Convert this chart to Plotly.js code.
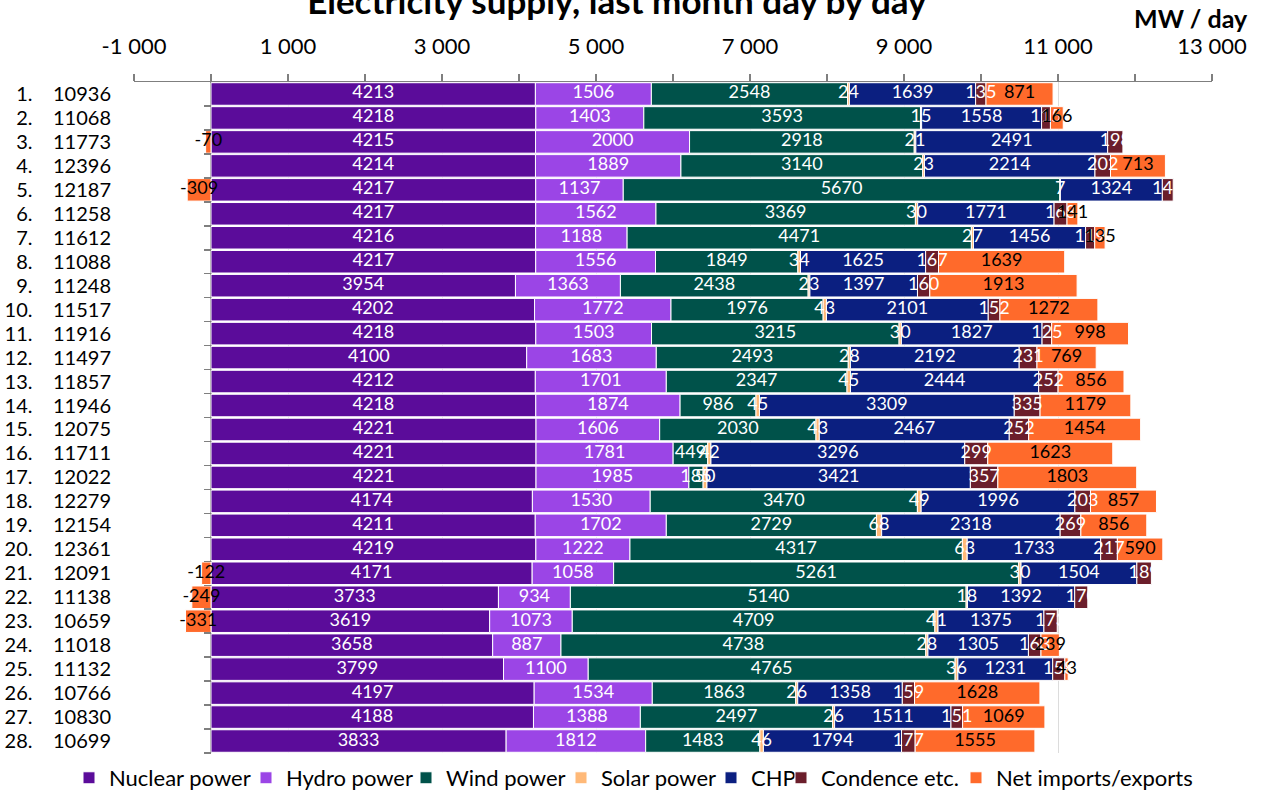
<!DOCTYPE html>
<html>
<head>
<meta charset="utf-8">
<script src="https://cdn.plot.ly/plotly-3.0.1.min.js"></script>
<style>html,body{margin:0;padding:0;background:#fff;}#chart{width:1264px;height:790px;}</style>
</head>
<body>
<div id="chart"></div>
<script>
const days = [1,2,3,4,5,6,7,8,9,10,11,12,13,14,15,16,17,18,19,20,21,22,23,24,25,26,27,28];
const totals = [10936,11068,11773,12396,12187,11258,11612,11088,11248,11517,11916,11497,11857,11946,12075,11711,12022,12279,12154,12361,12091,11138,10659,11018,11132,10766,10830,10699];
const nuclear = [4213,4218,4215,4214,4217,4217,4216,4217,3954,4202,4218,4100,4212,4218,4221,4221,4221,4174,4211,4219,4171,3733,3619,3658,3799,4197,4188,3833];
const hydro = [1506,1403,2000,1889,1137,1562,1188,1556,1363,1772,1503,1683,1701,1874,1606,1781,1985,1530,1702,1222,1058,934,1073,887,1100,1534,1388,1812];
const wind = [2548,3593,2918,3140,5670,3369,4471,1849,2438,1976,3215,2493,2347,986,2030,449,185,3470,2729,4317,5261,5140,4709,4738,4765,1863,2497,1483];
const solar = [24,15,21,23,7,30,27,34,23,43,30,28,45,45,43,42,50,49,68,63,30,18,41,28,36,26,26,46];
const chp = [1639,1558,2491,2214,1324,1771,1456,1625,1397,2101,1827,2192,2444,3309,2467,3296,3421,1996,2318,1733,1504,1392,1375,1305,1231,1358,1511,1794];
const condence = [135,115,198,202,141,168,119,167,160,152,125,231,252,335,252,299,357,203,269,217,189,170,173,163,158,159,151,177];
const netImports = [871,166,-70,713,-309,141,135,1639,1913,1272,998,769,856,1179,1454,1623,1803,857,856,590,-122,-249,-331,239,43,1628,1069,1555];

const xTickVals = [-1000, 1000, 3000, 5000, 7000, 9000, 11000, 13000];
const xTickText = ['-1 000', '1 000', '3 000', '5 000', '7 000', '9 000', '11 000', '13 000'];

const seriesNames = ['Nuclear power','Hydro power','Wind power','Solar power','CHP','Condence etc.','Net imports/exports'];
const seriesData = [nuclear, hydro, wind, solar, chp, condence, netImports];
const seriesColors = ['#5b0c9a','#9b45e6','#00524a','#ffb978','#0b1f80','#6b1e2b','#ff6a2b'];
const labelColors = ['#ffffff','#ffffff','#ffffff','#ffffff','#ffffff','#ffffff','#000000'];

const FONT = 'Lato, "Noto Sans", sans-serif';
const rows = days.map((d, i) => i);
const GAP = '\u00a0\u00a0\u00a0\u00a0';
const rowLabels = days.map((d, i) => d + '.' + GAP + totals[i]);

// legend text start positions (px) – one single-item legend per series so the row spacing matches
const legendTextX = [109, 286, 446, 601, 751, 821, 996];
const legendIds = seriesNames.map((n, s) => s === 0 ? 'legend' : 'legend' + (s + 1));

const traces = [];
seriesData.forEach((vals, s) => {
  traces.push({
    type: 'bar', orientation: 'h', name: seriesNames[s],
    x: vals, y: rows, legend: legendIds[s],
    marker: {color: seriesColors[s], line: {color: '#ffffff', width: 1}},
    hoverinfo: 'x+name'
  });
});

// labels drawn above all bars, centred on each segment
const posCum = rows.map(() => 0);
const negCum = rows.map(() => 0);
seriesData.forEach((vals, s) => {
  const xs = vals.map((v, i) => {
    let mid;
    if (v >= 0) { mid = posCum[i] + v / 2; posCum[i] += v; }
    else { mid = negCum[i] + v / 2; negCum[i] += v; }
    return mid;
  });
  traces.push({
    type: 'scatter', mode: 'text', x: xs, y: rows,
    text: vals.map(v => String(v)),
    textposition: 'middle center',
    textfont: {family: FONT, size: 18, color: labelColors[s]},
    showlegend: false, hoverinfo: 'skip', cliponaxis: false
  });
});

// helper trace for the boundary-tick axis at x = 0
traces.push({type: 'scatter', mode: 'none', x: [0], y: [0], yaxis: 'y2', showlegend: false, hoverinfo: 'skip'});

const boundaries = rows.map(i => i + 0.5);

const layout = {
  width: 1264, height: 790,
  margin: {l: 134, r: 52, t: 82, b: 37},
  paper_bgcolor: '#ffffff', plot_bgcolor: '#ffffff',
  font: {family: FONT, color: '#000000'},
  barmode: 'relative', bargap: 0.06,
  title: {
    text: '<b>Electricity supply, last month day by day</b>',
    font: {family: FONT, size: 35, color: '#000000'},
    x: 0.488, xanchor: 'center', xref: 'container',
    y: 0.9978, yanchor: 'middle', yref: 'container'
  },
  xaxis: {
    side: 'top', range: [-1000, 13000],
    tickmode: 'array', tickvals: xTickVals, ticktext: xTickText,
    ticks: 'outside', ticklen: 7, tickwidth: 1.5, tickcolor: '#7f7f7f',
    ticklabelstandoff: 11,
    minor: {tick0: 0, dtick: 1000, ticks: 'outside', ticklen: 7, tickwidth: 1.5, tickcolor: '#7f7f7f', showgrid: false},
    showline: true, linecolor: '#7f7f7f', linewidth: 1.5,
    showgrid: true, gridcolor: '#dcdcdc', gridwidth: 1,
    zeroline: true, zerolinecolor: '#7f7f7f', zerolinewidth: 1.5,
    tickfont: {family: FONT, size: 22, color: '#000000'},
    fixedrange: true
  },
  yaxis: {
    range: [27.5, -0.5], tickmode: 'array', tickvals: rows, ticktext: rowLabels,
    ticks: '', showgrid: false, zeroline: false, showline: false,
    ticklabelstandoff: 22,
    tickfont: {family: FONT, size: 20, color: '#000000'},
    fixedrange: true
  },
  yaxis2: {
    overlaying: 'y', anchor: 'free', position: 1 / 14, side: 'left',
    range: [27.5, -0.5], tickmode: 'array', tickvals: boundaries,
    ticks: 'outside', ticklen: 7, tickwidth: 1.5, tickcolor: '#7f7f7f',
    showticklabels: false, showgrid: false, zeroline: false, showline: false,
    fixedrange: true
  },
  annotations: [{
    text: '<b>MW / day</b>', xref: 'paper', yref: 'paper',
    x: 1.035, xanchor: 'right', y: 1.095, yanchor: 'middle',
    showarrow: false, font: {family: FONT, size: 25, color: '#000000'}
  }],
  showlegend: true
};

legendIds.forEach((id, s) => {
  layout[id] = {
    orientation: 'h', xref: 'container', yref: 'container',
    x: (legendTextX[s] - 40) / 1264, xanchor: 'left',
    y: 0.0418, yanchor: 'top',
    bgcolor: 'rgba(0,0,0,0)', borderwidth: 0,
    font: {family: FONT, size: 22, color: '#000000'},
    itemwidth: 30, itemclick: false, itemdoubleclick: false
  };
});

Plotly.newPlot('chart', traces, layout, {displayModeBar: false, staticPlot: true});
</script>
</body>
</html>
